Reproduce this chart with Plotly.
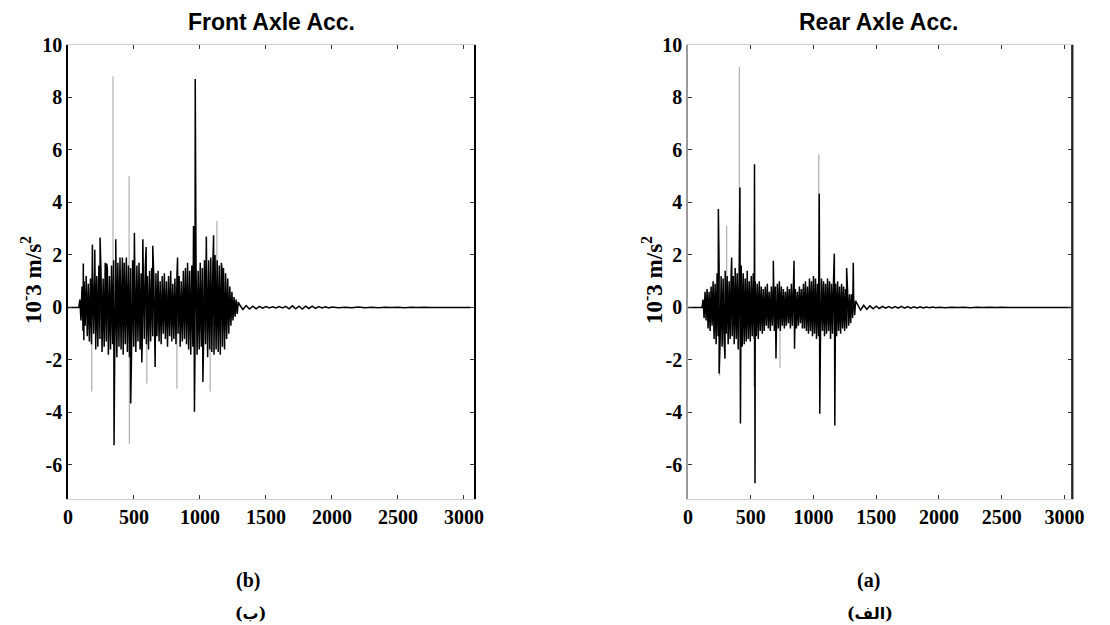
import numpy as np
import plotly.graph_objects as go

# ---------------- data (10^-3 m/s^2) ----------------
# Front axle: dense vibration part, sampled every 8 units starting at t=90
front_start, front_step = 90, 8
front_signal = [
    0.3, -0.5, 0.8, -0.9, 1.0, -0.7, 1.2, -1.1, 0.9, -1.3,
    1.1, -1.4, 1.5, -1.0, 1.3, -1.6, 1.2, -1.5, 1.6, -1.2,
    1.4, -1.7, 1.1, -1.5, 1.7, -1.3, 1.5, -1.8, 1.2, -1.6,
    1.6, -1.4, 1.8, -1.7, 1.4, -1.9, 1.7, -1.5, 1.9, -1.6,
    1.5, -1.8, 1.7, -1.4, 1.9, -1.7, 1.6, -1.9, 1.5, -1.6,
    1.8, -1.5, 1.4, -1.7, 1.6, -1.3, 1.7, -1.6, 1.3, -1.5,
    1.5, -1.2, 1.6, -1.4, 1.2, -1.6, 1.4, -1.3, 1.5, -1.1,
    1.2, -1.5, 1.3, -1.1, 1.4, -1.3, 1.0, -1.4, 1.2, -1.0,
    1.3, -1.2, 1.0, -1.5, 1.2, -1.1, 1.4, -1.3, 0.9, -1.2,
    1.1, -1.4, 1.3, -1.0, 1.2, -1.5, 1.0, -1.3, 1.4, -1.2,
    1.5, -1.4, 1.7, -1.6, 1.4, -1.8, 1.6, -1.5, 1.8, -1.7,
    1.6, -1.8, 1.4, -1.6, 1.7, -1.5, 1.5, -1.7, 1.8, -1.4,
    1.6, -1.9, 1.8, -1.6, 1.9, -1.7, 1.7, -1.8, 2.0, -1.6,
    1.8, -1.7, 1.6, -1.8, 1.7, -1.5, 1.5, -1.6, 1.3, -1.2,
    1.1, -1.0, 0.8, -0.7, 0.6, -0.5, 0.4, -0.35, 0.3, -0.25,
    0.2,
]
# Front axle: decaying tail (every 25 units from 1300, then every 50 from 2000)
front_tail_a = [
    0.10, -0.08, 0.07, -0.06, 0.05, -0.05, 0.04, -0.03, 0.03, -0.02,
    0.02, -0.02, 0.03, -0.02, 0.04, -0.05, 0.06, -0.05, 0.05, -0.06,
    0.05, -0.04, 0.05, -0.04, 0.03, -0.02, 0.02, -0.02,
]
front_tail_b = [
    0.015, -0.015, 0.01, -0.01, 0.015, -0.01, 0.01, -0.01, 0.01, -0.005,
    0.01, -0.01, 0.005, -0.005, 0.005, 0.0, 0.0, 0.0, 0.0, 0.0, 0.0, 0.0,
]
# Front axle: isolated dark peaks (time, value)
front_peak_t = [116, 120, 185, 203, 243, 293, 349, 362, 412, 475, 503, 559, 567,
                592, 642, 660, 830, 951, 958, 964, 1022, 1048, 1103, 1166]
front_peak_v = [1.67, -1.25, 2.4, 2.2, 2.66, 1.67, -5.25, 2.6, 1.9, -3.66, 2.85, -2.1, 2.6,
                2.3, 2.35, -2.27, 1.9, 3.1, -3.98, 8.7, -2.84, 2.7, 2.75, 1.5]
# Front axle: faint (grey) single-sample peaks
front_faint_t = [180, 341, 463, 465, 597, 825, 1077, 1128]
front_faint_v = [-3.2, 8.8, 5.0, -5.2, -2.9, -3.1, -3.2, 3.3]

# Rear axle: dense vibration part, sampled every 8 units starting at t=120
rear_start, rear_step = 120, 8
rear_signal = [
    0.3, -0.4, 0.6, -0.5, 0.7, -0.8, 0.6, -0.9, 0.8, -0.7,
    1.0, -1.2, 0.9, -1.4, 1.3, -1.1, 1.5, -1.3, 1.2, -1.5,
    1.1, -1.3, 1.4, -1.0, 1.2, -1.4, 1.0, -1.2, 1.3, -1.1,
    1.2, -1.4, 1.5, -1.2, 1.3, -1.6, 1.4, -1.3, 1.6, -1.5,
    1.3, -1.4, 1.1, -1.3, 1.4, -1.2, 1.0, -1.3, 1.2, -1.1,
    1.3, -1.2, 1.0, -1.1, 0.9, -1.2, 1.0, -0.9, 0.8, -1.0,
    0.7, -0.9, 0.8, -0.7, 0.9, -0.8, 0.6, -0.9, 0.8, -0.7,
    1.0, -0.9, 0.8, -1.0, 0.9, -0.8, 1.0, -0.9, 0.8, -0.7,
    0.7, -0.8, 0.6, -0.7, 0.8, -0.6, 0.7, -0.8, 0.9, -0.7,
    0.8, -0.9, 0.7, -0.8, 0.6, -0.7, 0.8, -0.6, 0.7, -0.8,
    0.9, -0.8, 1.0, -0.9, 0.8, -1.0, 1.1, -0.9, 1.0, -1.1,
    1.2, -1.0, 1.1, -1.2, 0.9, -1.1, 1.2, -1.0, 1.1, -0.9,
    1.0, -1.1, 0.9, -1.0, 1.1, -0.9, 1.0, -1.2, 0.9, -1.0,
    1.1, -1.0, 0.9, -1.1, 1.0, -0.9, 0.8, -1.0, 0.9, -0.8,
    0.8, -0.9, 0.7, -0.8, 0.6, -0.7, 0.5, -0.6, 0.5, -0.4,
    0.35, -0.3, 0.25,
]
rear_tail_a = [
    0.12, -0.10, 0.08, -0.07, 0.06, -0.05, 0.05, -0.04, 0.04, -0.03,
    0.03, -0.03, 0.03, -0.03, 0.04, -0.03, 0.03, -0.03, 0.02, -0.02,
    0.02, -0.02, 0.015, -0.015, 0.015, -0.01,
]
rear_tail_b = [
    0.01, -0.01, 0.01, -0.005, 0.01, -0.01, 0.005, -0.005, 0.005, -0.005,
    0.005, 0.0, 0.0, 0.0, 0.0, 0.0, 0.0, 0.0, 0.0, 0.0, 0.0, 0.0,
]
rear_peak_t = [242, 248, 295, 348, 414, 418, 530, 534, 680, 701, 845, 849,
               1046, 1050, 1166, 1170, 1264, 1317]
rear_peak_v = [3.75, -2.52, -1.95, 1.9, 4.57, -4.42, 5.46, -6.7, 1.78, -1.95, 1.78, -1.57,
               4.33, -4.05, 2.05, -4.5, 1.5, 1.7]
rear_faint_t = [252, 308, 409, 526, 733, 1042]
rear_faint_v = [-2.6, 3.1, 9.17, -3.0, -2.3, 5.84]

y_tick_vals = [10, 8, 6, 4, 2, 0, -2, -4, -6]
y_tick_text = ["10", "8", "6", "4", "2", "0", "-2", "-4", "-6"]
x_tick_vals = [0, 500, 1000, 1500, 2000, 2500, 3000]
x_tick_text = ["0", "500", "1000", "1500", "2000", "2500", "3000"]

panel_titles = ["Front Axle Acc.", "Rear Axle Acc."]
y_title = "10<sup>-</sup>3 m/s<sup>2</sup>"
captions = ["(b)", "(a)"]
captions_fa = ["(ب)", "(الف)"]


def build_series(start, step, signal, tail_a, tail_b, tail_a_start, peak_t, peak_v):
    t_sig = start + step * np.arange(len(signal))
    t_ta = tail_a_start + 25 * np.arange(len(tail_a))
    t_tb = 2000 + 50 * np.arange(len(tail_b))
    t = np.concatenate([[0.0, start - step], t_sig, t_ta, t_tb, peak_t])
    v = np.concatenate([[0.0, 0.0], signal, tail_a, tail_b, peak_v])
    order = np.argsort(t, kind="stable")
    return t[order], v[order]


def faint_segments(ts, vs):
    xs, ys = [], []
    for t, v in zip(ts, vs):
        xs += [t, t, None]
        ys += [0, v, None]
    return xs, ys


# page body has an 8px margin: figure is 8px smaller and all positions shifted by 8px
W, H, OFF = 1102, 617, 8


def px(x):
    return (x - OFF) / W


def py(y):
    return 1 - (y - OFF) / H


fx, fy = build_series(front_start, front_step, front_signal, front_tail_a, front_tail_b,
                      1300, front_peak_t, front_peak_v)
rx, ry = build_series(rear_start, rear_step, rear_signal, rear_tail_a, rear_tail_b,
                      1350, rear_peak_t, rear_peak_v)

fig = go.Figure()
ffx, ffy = faint_segments(front_faint_t, front_faint_v)
rfx, rfy = faint_segments(rear_faint_t, rear_faint_v)
faint_line = dict(color="#b0b0b0", width=1.2, simplify=False)
main_line = dict(color="black", width=1.5, simplify=False)
fig.add_trace(go.Scatter(x=ffx, y=ffy, mode="lines", line=faint_line,
                         xaxis="x", yaxis="y", hoverinfo="skip"))
fig.add_trace(go.Scatter(x=fx, y=fy, mode="lines", line=main_line,
                         xaxis="x", yaxis="y", hoverinfo="skip"))
fig.add_trace(go.Scatter(x=rfx, y=rfy, mode="lines", line=faint_line,
                         xaxis="x2", yaxis="y2", hoverinfo="skip"))
fig.add_trace(go.Scatter(x=rx, y=ry, mode="lines", line=main_line,
                         xaxis="x2", yaxis="y2", hoverinfo="skip"))

tick_font = dict(family="Liberation Serif", size=20, color="black", weight="bold")
xcommon = dict(range=[0, 3076], tickvals=x_tick_vals, ticktext=x_tick_text, ticks="inside",
               ticklen=4, tickcolor="#333", showline=True, linecolor="#cfcfcf", linewidth=1,
               mirror="allticks", showgrid=False, zeroline=False, tickfont=tick_font,
               fixedrange=True, automargin=False)
ycommon = dict(range=[-7.3, 10], tickvals=y_tick_vals, ticktext=y_tick_text, ticks="inside",
               ticklen=4, tickcolor="#333", showline=True, linewidth=1.5,
               mirror="allticks", showgrid=False, zeroline=False, tickfont=tick_font,
               fixedrange=True, automargin=False)

y_dom = [py(499), py(45)]
fig.update_layout(
    width=W, height=H,
    margin=dict(l=0, r=0, t=0, b=0, pad=0),
    paper_bgcolor="white", plot_bgcolor="white",
    showlegend=False,
    xaxis=dict(domain=[px(68), px(474)], anchor="y", **xcommon),
    yaxis=dict(domain=y_dom, anchor="x", linecolor="black", **ycommon),
    xaxis2=dict(domain=[px(688), px(1072)], anchor="y2",
                **{**xcommon, "range": [0, 3060]}),
    yaxis2=dict(domain=y_dom, anchor="x2", linecolor="#9a9a9a", **ycommon),
)
# black right border on the rear panel
fig.add_shape(type="line", xref="x2 domain", yref="y2 domain", x0=1, x1=1, y0=0, y1=1,
              line=dict(color="black", width=1.5))

title_font = dict(family="Liberation Sans", size=23, color="black", weight="bold")
for txt, xc in zip(panel_titles, [271, 878]):
    fig.add_annotation(text=txt, x=px(xc), y=py(22), xref="paper", yref="paper",
                       showarrow=False, font=title_font, xanchor="center", yanchor="middle")

ytitle_font = dict(family="Liberation Serif", size=23, color="black", weight="bold")
for xc in [31, 652]:
    fig.add_annotation(text=y_title, x=px(xc), y=py(280), xref="paper", yref="paper",
                       showarrow=False, textangle=-90, font=ytitle_font,
                       xanchor="center", yanchor="middle")

cap_font = dict(family="Liberation Serif", size=20, color="black", weight="bold")
fa_font = dict(family="DejaVu Serif, DejaVu Sans", size=16, color="black", weight="bold")
for cap, fa, xc in zip(captions, captions_fa, [248, 868]):
    fig.add_annotation(text=cap, x=px(xc), y=py(580), xref="paper", yref="paper",
                       showarrow=False, font=cap_font, xanchor="center", yanchor="middle")
    fig.add_annotation(text=fa, x=px(xc + 2), y=py(613), xref="paper", yref="paper",
                       showarrow=False, font=fa_font, xanchor="center", yanchor="middle")

fig.write_html("out.html", config={"displayModeBar": False})
